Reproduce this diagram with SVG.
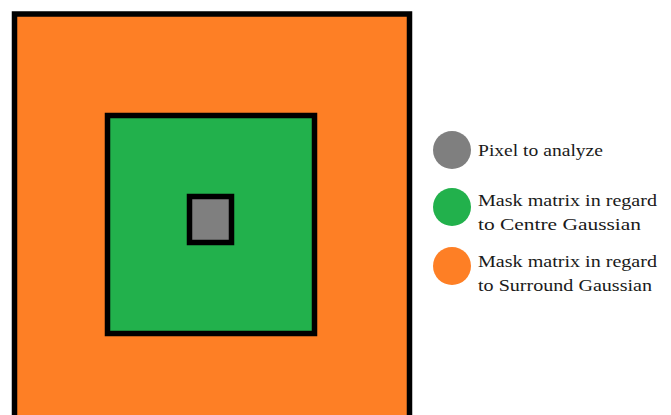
<svg xmlns="http://www.w3.org/2000/svg" width="671" height="415" viewBox="0 0 671 415">
<style>
.box{stroke:#000;stroke-width:5.5}
.lbl{font-family:"Liberation Serif","DejaVu Serif",serif;font-size:17.5px;fill:#1a1a1a}
</style>
<rect width="671" height="415" fill="#fff"/>
<g id="surround"><rect class="box" x="14.5" y="14" width="395" height="420" fill="#fe7f25"/></g>
<g id="centre"><rect class="box" x="107.5" y="115.5" width="207" height="218" fill="#22b14c"/></g>
<g id="pixel"><rect class="box" x="189.5" y="196.5" width="42" height="46" fill="#7f7f7f"/></g>
<g id="legend-pixel">
<circle cx="452" cy="150" r="19" fill="#7f7f7f"/>
<text class="lbl" x="478" y="156" textLength="125" lengthAdjust="spacingAndGlyphs">Pixel to analyze</text>
</g>
<g id="legend-centre">
<circle cx="452" cy="207" r="19" fill="#22b14c"/>
<text class="lbl" x="478" y="206" textLength="179" lengthAdjust="spacingAndGlyphs">Mask matrix in regard</text>
<text class="lbl" x="478" y="230" textLength="163" lengthAdjust="spacingAndGlyphs">to Centre Gaussian</text>
</g>
<g id="legend-surround">
<circle cx="452" cy="266" r="19" fill="#fe7f25"/>
<text class="lbl" x="478" y="267" textLength="179" lengthAdjust="spacingAndGlyphs">Mask matrix in regard</text>
<text class="lbl" x="478" y="291" textLength="174" lengthAdjust="spacingAndGlyphs">to Surround Gaussian</text>
</g>
<g id="connectors"/>
</svg>
